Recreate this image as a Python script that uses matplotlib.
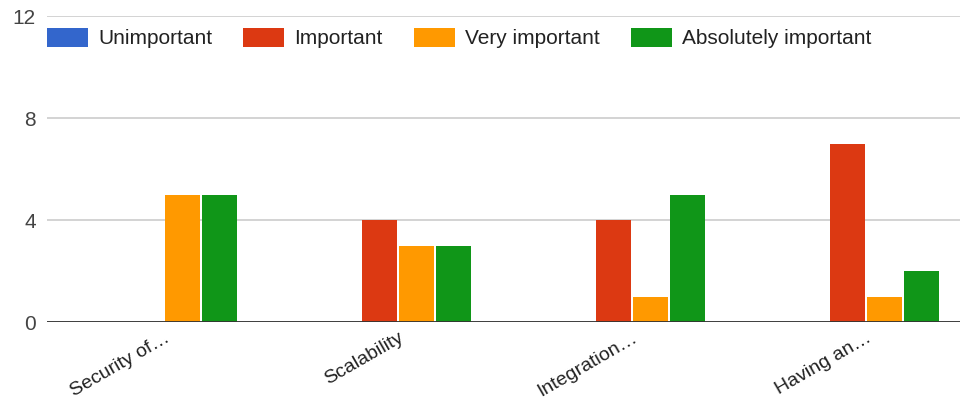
import numpy as np
import matplotlib.pyplot as plt

plt.rcParams['font.family'] = ['Liberation Sans', 'DejaVu Sans']

categories = ['Security of…', 'Scalability', 'Integration…', 'Having an…']
series = ['Unimportant', 'Important', 'Very important', 'Absolutely important']
values = {
    'Unimportant': [0, 0, 0, 0],
    'Important': [0, 4, 4, 7],
    'Very important': [5, 3, 1, 1],
    'Absolutely important': [5, 3, 5, 2],
}
colors = ['#3366cc', '#dc3912', '#ff9900', '#109618']

fig = plt.figure(figsize=(9.6, 4.03), dpi=100)
# plot area runs past the right edge, like the cropped original
ax = fig.add_axes([47 / 960, 81 / 403, 936 / 960, 306 / 403])

x = np.arange(len(categories))
step = 0.158
width = 0.147
for i, name in enumerate(series):
    ax.bar(x + (i - 1.5) * step, values[name], width, color=colors[i],
           label=name, zorder=3)

ax.set_xlim(-0.5, 3.5)
ax.set_ylim(0, 12)
ax.set_yticks([0, 4, 8, 12])
ax.grid(axis='y', color='#cccccc', linewidth=1.2, zorder=0)
ax.axhline(0, color='#333333', linewidth=1.3, zorder=4)
for s in ax.spines.values():
    s.set_visible(False)
ax.tick_params(axis='y', length=0, pad=8, labelsize=15, labelcolor='#444444')
ax.tick_params(axis='x', length=0, pad=5, labelsize=14, labelcolor='#222222')
ax.set_xticks(x)
ax.set_xticklabels(categories, rotation=30, ha='right', rotation_mode='anchor')

leg = ax.legend(loc='upper left', bbox_to_anchor=(0, 0.962), ncol=4,
                frameon=False, fontsize=15, handlelength=1.97, handleheight=1.04,
                handletextpad=0.48, columnspacing=1.5, borderaxespad=0,
                borderpad=0)
for t in leg.get_texts():
    t.set_color('#222222')

fig.savefig('out.png', dpi=100)
